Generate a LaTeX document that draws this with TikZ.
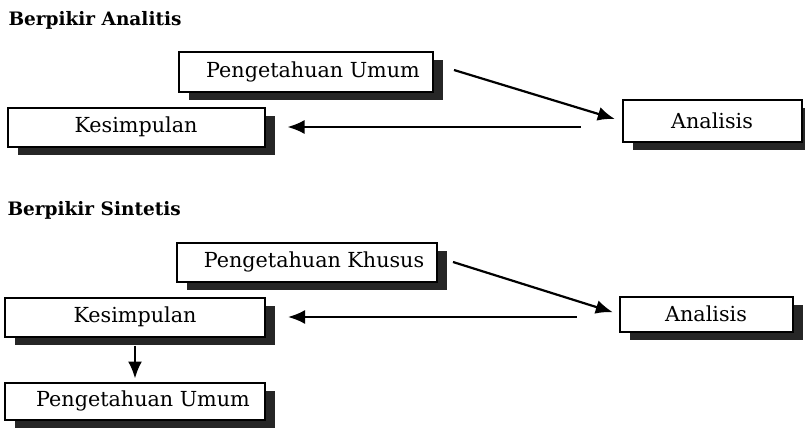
\documentclass[tikz,border=0pt]{standalone}
\usepackage{fontspec}
\setmainfont{DejaVu Serif}
\usetikzlibrary{arrows.meta,shadows}
\tikzset{x=1pt, y=-1pt,
    kotak/.style={draw, line width=2pt, fill=white, inner sep=0pt,
        font=\fontsize{20.7}{24}\selectfont,
        general shadow={fill=black!85, shadow xshift=10pt, shadow yshift=-8pt}},
    geser/.style={execute at begin node={\hspace*{#1}}},
    panah/.style={line width=2.2pt, -{Latex[length=17pt,width=14pt]}},
    judul/.style={anchor=west, font=\bfseries\fontsize{18.5}{22}\selectfont},
    }
\begin{document}
\begin{tikzpicture}
	\useasboundingbox (0,0) rectangle (805,428);
	% analitis
	\node[judul] (judul1) at (5,20) {Berpikir Analitis};
	\node[kotak, geser=14pt, minimum width=254pt, minimum height=39pt] (umum1) at (306,72) {Pengetahuan Umum};
	\node[kotak, minimum width=257pt, minimum height=39pt] (simpul1) at (136,127) {Kesimpulan};
	\node[kotak, minimum width=179pt, minimum height=42pt] (analisis1) at (712,121) {Analisis};
	\draw[panah, shorten >=7pt] ([xshift=20pt,yshift=2pt]umum1.east) -- (analisis1.west);
	\draw[panah, shorten <=41pt, shorten >=22pt] (simpul1.east -| analisis1.west) -- (simpul1.east);
	% sintetis
	\node[judul] (judul2) at (4,210) {Berpikir Sintetis};
	\node[kotak, geser=14pt, minimum width=260pt, minimum height=39pt] (khusus2) at (307,262) {Pengetahuan Khusus};
	\node[kotak, minimum width=260pt, minimum height=39pt] (simpul2) at (135,317) {Kesimpulan};
	\node[kotak, geser=16pt, minimum width=260pt, minimum height=37pt] (umum2) at (135,401) {Pengetahuan Umum};
	\node[kotak, minimum width=173pt, minimum height=35pt] (analisis2) at (706,314) {Analisis};
	\draw[panah, shorten >=6pt] ([xshift=15pt]khusus2.east) -- (analisis2.west);
	\draw[panah, shorten <=42pt, shorten >=22pt] (simpul2.east -| analisis2.west) -- (simpul2.east);
	\draw[panah, shorten <=8pt, shorten >=3pt] (simpul2.south) -- (umum2.north);
\end{tikzpicture}
\end{document}
